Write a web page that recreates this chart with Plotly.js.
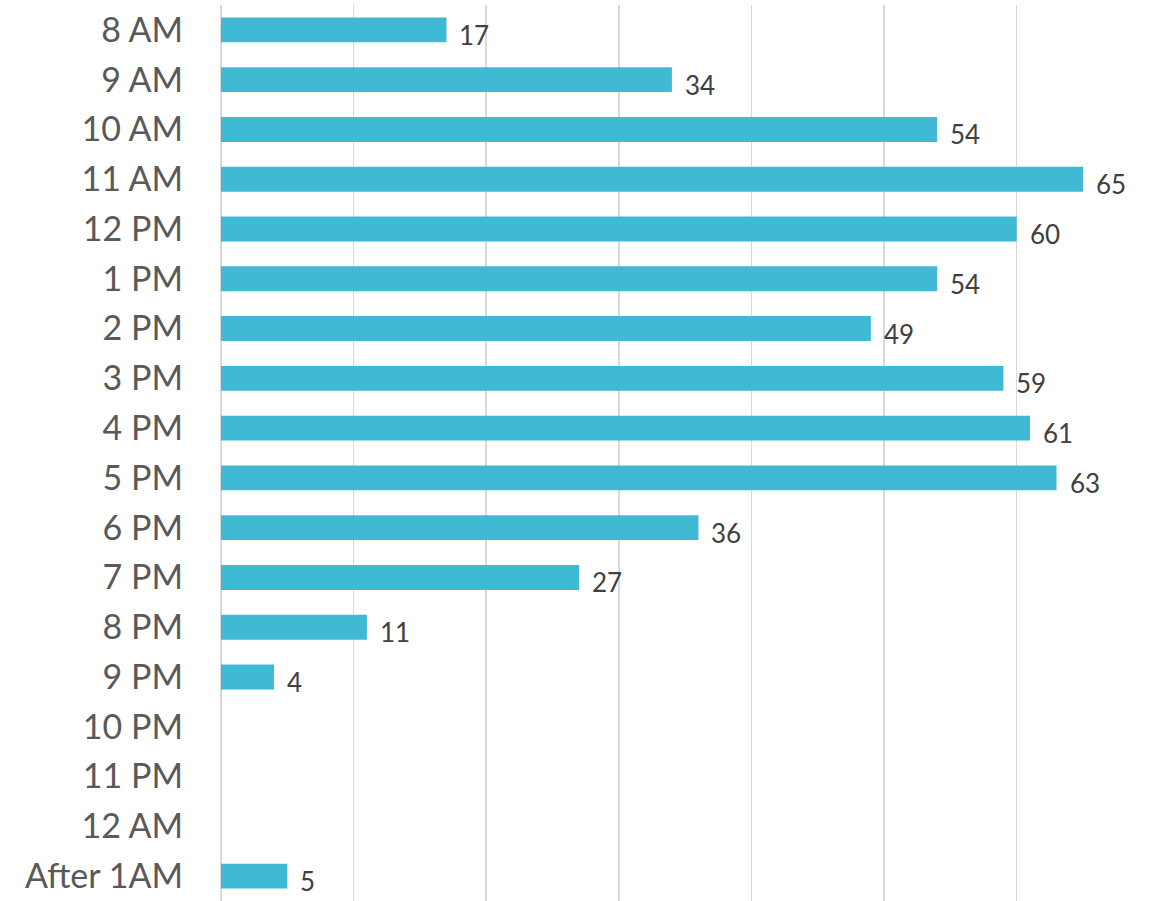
<!DOCTYPE html>
<html>
<head>
<meta charset="utf-8">
<script src="https://cdn.plot.ly/plotly-3.0.1.min.js"></script>
<style>
  html, body { margin: 0; padding: 0; background: #ffffff; }
  #chart { width: 1155px; height: 901px; }
</style>
</head>
<body>
<div id="chart"></div>
<script>
// Visits per hour of the day
const hours = ["8 AM", "9 AM", "10 AM", "11 AM", "12 PM", "1 PM", "2 PM", "3 PM", "4 PM",
               "5 PM", "6 PM", "7 PM", "8 PM", "9 PM", "10 PM", "11 PM", "12 AM", "After 1AM"];
const visits = [17, 34, 54, 65, 60, 54, 49, 59, 61, 63, 36, 27, 11, 4, 0, 0, 0, 5];

const barColor = "#40b9d4";

const trace = {
  type: "bar",
  orientation: "h",
  x: visits,
  y: hours,
  marker: { color: barColor },
  hoverinfo: "x+y"
};

// Value labels sit just past the end of each non-empty bar
const labels = hours.map((h, i) => ({
  x: visits[i],
  y: h,
  text: String(visits[i]),
  showarrow: false,
  xanchor: "left",
  yanchor: "middle",
  xshift: 11,
  yshift: -5,
  font: { family: "Lato, 'Open Sans', sans-serif", size: 26, color: "#404040" }
})).filter((a, i) => visits[i] > 0);

const layout = {
  width: 1155,
  height: 901,
  margin: { l: 221, r: 5, t: 5, b: 0 },
  paper_bgcolor: "#ffffff",
  plot_bgcolor: "#ffffff",
  bargap: 0.5,
  showlegend: false,
  xaxis: {
    range: [0, 70.05],
    dtick: 10,
    showticklabels: false,
    showgrid: true,
    gridcolor: "#d9d9d9",
    gridwidth: 1.5,
    zeroline: true,
    zerolinecolor: "#d9d9d9",
    zerolinewidth: 1.5,
    showline: false,
    fixedrange: true
  },
  yaxis: {
    type: "category",
    autorange: "reversed",
    showgrid: false,
    zeroline: false,
    showline: false,
    ticks: "",
    ticklabelstandoff: 37,
    tickfont: { family: "Lato, 'Open Sans', sans-serif", size: 34, color: "#595959" },
    fixedrange: true
  },
  annotations: labels
};

Plotly.newPlot("chart", [trace], layout, { displayModeBar: false, staticPlot: true });
</script>
</body>
</html>
